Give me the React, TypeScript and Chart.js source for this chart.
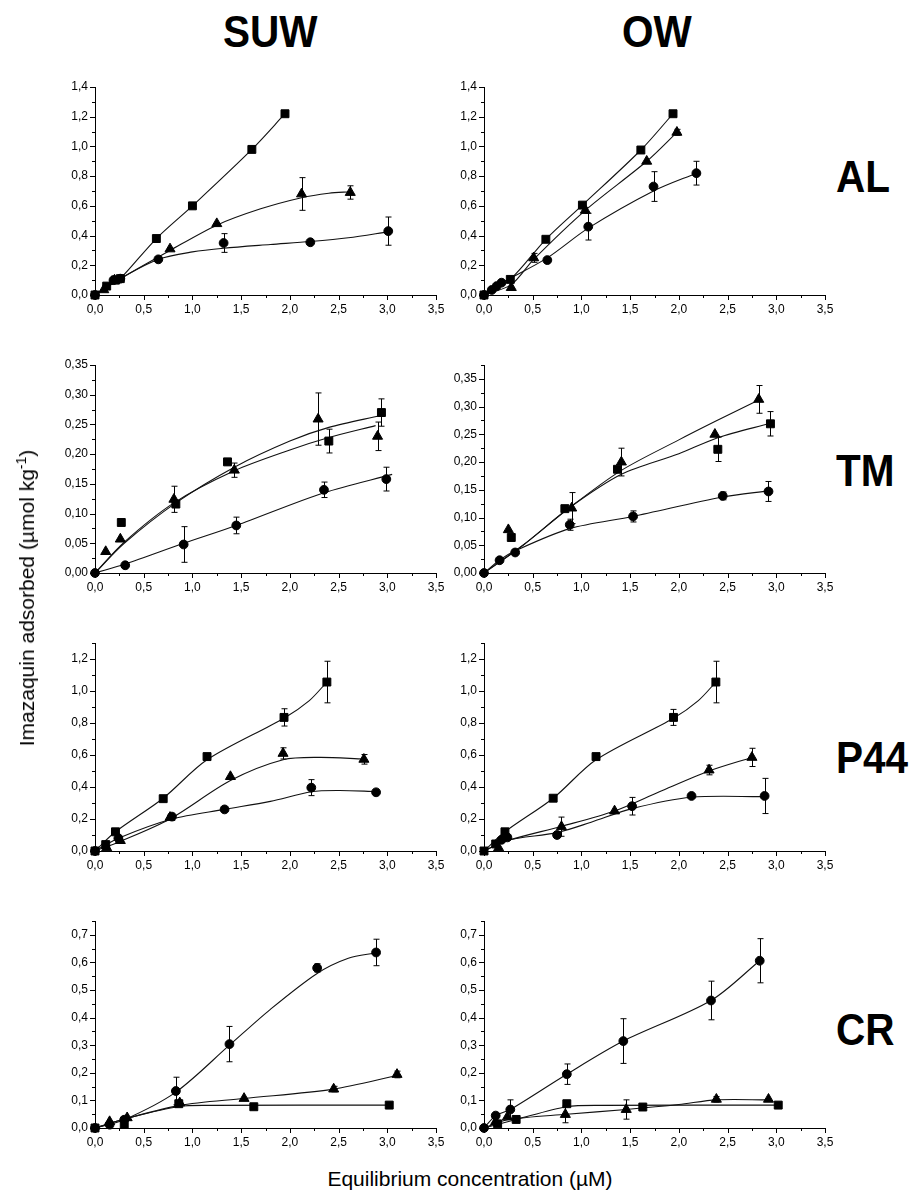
import React, { useEffect, useRef } from 'react';
import { Chart, registerables } from 'chart.js';
Chart.register(...registerables);

type P = [number, number, number]; // x, y, error
type C = [number, number][];

// ---------- AL ----------
const AL_SUW_SQ: P[] = [[0, 0, 0], [0.12, 0.06, 0], [0.21, 0.1, 0], [0.26, 0.11, 0], [0.63, 0.38, 0], [1.0, 0.6, 0], [1.61, 0.98, 0], [1.95, 1.22, 0]];
const AL_SUW_TRI: P[] = [[0.09, 0.035, 0], [0.2, 0.1, 0], [0.77, 0.31, 0], [1.25, 0.48, 0], [2.12, 0.68, 0.11], [2.62, 0.69, 0.045]];
const AL_SUW_CIR: P[] = [[0, 0, 0], [0.19, 0.1, 0], [0.26, 0.11, 0], [0.65, 0.24, 0], [1.32, 0.35, 0.063], [2.21, 0.355, 0], [3.01, 0.43, 0.095]];
const AL_SUW_TRI_FIT: C = [[0, 0], [0.26, 0.11], [0.77, 0.3], [1.25, 0.47], [1.7, 0.58], [2.12, 0.655], [2.4, 0.685], [2.62, 0.695]];
const AL_SUW_CIR_FIT: C = [[0, 0], [0.26, 0.11], [0.65, 0.24], [1.0, 0.29], [1.32, 0.315], [1.8, 0.34], [2.21, 0.36], [2.6, 0.385], [3.01, 0.425]];

const AL_OW_SQ: P[] = [[0, 0, 0], [0.27, 0.105, 0], [0.635, 0.375, 0], [1.01, 0.605, 0], [1.61, 0.976, 0], [1.94, 1.22, 0]];
const AL_OW_TRI: P[] = [[0.28, 0.05, 0], [0.51, 0.25, 0.03], [1.04, 0.57, 0.02], [1.67, 0.9, 0], [1.98, 1.095, 0.02]];
const AL_OW_CIR: P[] = [[0, 0, 0], [0.08, 0.034, 0], [0.13, 0.06, 0], [0.18, 0.083, 0], [0.65, 0.235, 0], [1.07, 0.46, 0.09], [1.74, 0.73, 0.1], [2.18, 0.82, 0.08]];
const AL_OW_TRI_FIT: C = [[0, 0], [0.28, 0.07], [0.51, 0.24], [1.04, 0.57], [1.67, 0.9], [1.98, 1.095]];
const AL_OW_CIR_FIT: C = [[0, 0], [0.08, 0.034], [0.18, 0.08], [0.65, 0.25], [1.07, 0.45], [1.74, 0.7], [2.18, 0.82]];

// ---------- TM ----------
const TM_SUW_SQ: P[] = [[0.27, 0.085, 0], [0.83, 0.116, 0], [1.36, 0.187, 0.005], [2.4, 0.222, 0.02], [2.94, 0.27, 0.023]];
const TM_SUW_TRI: P[] = [[0.11, 0.036, 0], [0.26, 0.057, 0], [0.81, 0.124, 0.022], [1.43, 0.173, 0.012], [2.29, 0.259, 0.044], [2.9, 0.23, 0.024]];
const TM_SUW_CIR: P[] = [[0, 0, 0], [0.31, 0.013, 0], [0.91, 0.048, 0.03], [1.45, 0.08, 0.014], [2.35, 0.14, 0.013], [2.99, 0.158, 0.02]];
const TM_SUW_SQ_FIT: C = [[0, 0], [0.3, 0.05], [0.83, 0.118], [1.43, 0.178], [2.0, 0.222], [2.4, 0.245], [2.93, 0.265]];
const TM_SUW_TRI_FIT: C = [[0, 0], [0.3, 0.052], [0.81, 0.118], [1.43, 0.172], [2.0, 0.207], [2.4, 0.228], [2.88, 0.248]];
const TM_SUW_CIR_FIT: C = [[0, 0], [0.31, 0.015], [0.91, 0.05], [1.45, 0.08], [2.35, 0.135], [3.05, 0.166]];

const TM_OW_SQ: P[] = [[0.28, 0.064, 0], [0.83, 0.116, 0], [1.37, 0.187, 0], [2.4, 0.223, 0.022], [2.94, 0.269, 0.022]];
const TM_OW_TRI: P[] = [[0.25, 0.078, 0], [0.9, 0.117, 0.028], [1.41, 0.2, 0.025], [2.37, 0.25, 0], [2.82, 0.313, 0.025]];
const TM_OW_CIR: P[] = [[0, 0, 0], [0.16, 0.023, 0], [0.32, 0.037, 0], [0.88, 0.087, 0.01], [1.53, 0.102, 0.01], [2.45, 0.139, 0.007], [2.92, 0.147, 0.018]];
const TM_OW_SQ_FIT: C = [[0, 0], [0.4, 0.05], [0.88, 0.118], [1.41, 0.178], [2.0, 0.215], [2.4, 0.244], [2.94, 0.27]];
const TM_OW_TRI_FIT: C = [[0, 0], [0.4, 0.05], [0.88, 0.118], [1.41, 0.185], [2.0, 0.24], [2.37, 0.273], [2.82, 0.312]];
const TM_OW_CIR_FIT: C = [[0, 0], [0.16, 0.023], [0.32, 0.04], [0.88, 0.08], [1.53, 0.102], [2.45, 0.137], [2.92, 0.148]];

// ---------- P44 ----------
const P44_SUW_SQ: P[] = [[0, 0, 0], [0.11, 0.04, 0], [0.21, 0.12, 0], [0.7, 0.327, 0], [1.15, 0.59, 0], [1.94, 0.835, 0.054], [2.38, 1.056, 0.13]];
const P44_SUW_TRI: P[] = [[0.12, 0.02, 0], [0.26, 0.065, 0], [0.77, 0.21, 0], [1.39, 0.465, 0], [1.93, 0.61, 0.035], [2.76, 0.573, 0.03]];
const P44_SUW_CIR: P[] = [[0, 0, 0], [0.24, 0.08, 0], [0.79, 0.215, 0], [1.33, 0.26, 0], [2.22, 0.396, 0.05], [2.885, 0.367, 0]];
const P44_SUW_SQ_FIT: C = [[0, 0], [0.21, 0.12], [0.7, 0.33], [1.15, 0.57], [1.94, 0.83], [2.2, 0.94], [2.38, 1.056]];
const P44_SUW_TRI_FIT: C = [[0, 0], [0.26, 0.06], [0.77, 0.2], [1.39, 0.44], [1.93, 0.57], [2.3, 0.585], [2.76, 0.575]];
const P44_SUW_CIR_FIT: C = [[0, 0], [0.24, 0.08], [0.79, 0.2], [1.33, 0.26], [1.8, 0.31], [2.22, 0.37], [2.5, 0.378], [2.885, 0.372]];

const P44_OW_SQ: P[] = [[0, 0, 0], [0.12, 0.044, 0], [0.215, 0.12, 0], [0.71, 0.33, 0], [1.15, 0.59, 0], [1.945, 0.835, 0.05], [2.38, 1.056, 0.13]];
const P44_OW_TRI: P[] = [[0.15, 0.02, 0], [0.795, 0.152, 0.06], [1.34, 0.25, 0], [2.31, 0.506, 0.03], [2.75, 0.585, 0.057]];
const P44_OW_CIR: P[] = [[0.18, 0.07, 0], [0.24, 0.085, 0], [0.75, 0.1, 0], [1.52, 0.28, 0.055], [2.13, 0.344, 0], [2.88, 0.344, 0.11]];
const P44_OW_SQ_FIT: C = [[0, 0], [0.215, 0.12], [0.71, 0.33], [1.15, 0.57], [1.945, 0.83], [2.2, 0.94], [2.38, 1.056]];
const P44_OW_TRI_FIT: C = [[0, 0], [0.24, 0.065], [0.8, 0.155], [1.34, 0.25], [1.8, 0.37], [2.31, 0.5], [2.75, 0.585]];
const P44_OW_CIR_FIT: C = [[0, 0], [0.24, 0.068], [0.75, 0.115], [1.1, 0.18], [1.52, 0.265], [2.13, 0.336], [2.88, 0.34]];

// ---------- CR ----------
const CR_SUW_CIR: P[] = [[0, 0, 0], [0.15, 0.012, 0], [0.3, 0.03, 0], [0.83, 0.134, 0.05], [1.38, 0.304, 0.064], [2.28, 0.58, 0.015], [2.885, 0.636, 0.048]];
const CR_SUW_TRI: P[] = [[0.15, 0.023, 0], [0.33, 0.037, 0], [0.87, 0.091, 0], [1.53, 0.107, 0], [2.45, 0.141, 0.01], [3.1, 0.194, 0.012]];
const CR_SUW_SQ: P[] = [[0, 0, 0], [0.3, 0.013, 0], [0.86, 0.088, 0], [1.63, 0.077, 0], [3.02, 0.083, 0]];
const CR_SUW_CIR_FIT: C = [[0, 0], [0.3, 0.03], [0.83, 0.13], [1.38, 0.3], [1.8, 0.43], [2.28, 0.56], [2.6, 0.615], [2.885, 0.635]];
const CR_SUW_TRI_FIT: C = [[0, 0], [0.33, 0.035], [0.87, 0.082], [1.53, 0.107], [2.45, 0.141], [3.1, 0.19]];
const CR_SUW_SQ_FIT: C = [[0, 0], [0.33, 0.035], [0.86, 0.078], [1.2, 0.082], [3.02, 0.083]];

const CR_OW_CIR: P[] = [[0, 0, 0], [0.12, 0.045, 0], [0.27, 0.067, 0.035], [0.85, 0.195, 0.037], [1.43, 0.315, 0.081], [2.33, 0.462, 0.07], [2.83, 0.606, 0.08]];
const CR_OW_TRI: P[] = [[0.12, 0.023, 0], [0.24, 0.04, 0], [0.835, 0.049, 0.03], [1.46, 0.067, 0.035], [2.385, 0.104, 0.01], [2.92, 0.104, 0]];
const CR_OW_SQ: P[] = [[0.14, 0.015, 0], [0.33, 0.031, 0], [0.85, 0.088, 0], [1.63, 0.076, 0], [3.02, 0.083, 0]];
const CR_OW_TRI_FIT: C = [[0, 0], [0.24, 0.03], [0.85, 0.05], [1.46, 0.067], [2.0, 0.085], [2.385, 0.102], [2.92, 0.102]];
const CR_OW_SQ_FIT: C = [[0, 0], [0.33, 0.031], [0.85, 0.077], [1.2, 0.082], [3.02, 0.083]];

// ---------- labels ----------
const COLUMN_TITLES = ['SUW', 'OW'];
const ROW_LABELS = ['AL', 'TM', 'P44', 'CR'];
const X_TITLE = 'Equilibrium concentration (µM)';
const X_MAX = 3.5;

// layout (pixels)
const COL_AXIS_X = [95, 484];
const PLOT_W = 341;
const Y_AXIS_W = 60;
const X_AXIS_H = 30;
const PAD_T = 10;
const PAD_R = 14;

const toPts = (a: P[]) => a.map(([x, y]) => ({ x, y }));
const toCurve = (a: C | P[]) => a.map((p) => ({ x: p[0], y: p[1] }));

type Series = { pts: P[]; fit?: C; shape: 'rect' | 'triangle' | 'circle' };
type PanelCfg = {
  col: number;
  top: number;
  bottom: number;
  yMax: number;
  yMajor: number;
  yMinor: number;
  dec: number;
  series: Series[];
};

const ROWS = [
  { top: 87, bottom: 295, yMajor: 0.2, yMinor: 0.1, dec: 1, max: [1.4, 1.4] },
  { top: 365, bottom: 573, yMajor: 0.05, yMinor: 0.025, dec: 2, max: [0.35, 0.375] },
  { top: 643, bottom: 851, yMajor: 0.2, yMinor: 0.1, dec: 1, max: [1.3, 1.3] },
  { top: 921, bottom: 1128, yMajor: 0.1, yMinor: 0.05, dec: 1, max: [0.75, 0.75] },
];

const SERIES: Series[][][] = [
  [
    [{ pts: AL_SUW_SQ, shape: 'rect' }, { pts: AL_SUW_TRI, fit: AL_SUW_TRI_FIT, shape: 'triangle' }, { pts: AL_SUW_CIR, fit: AL_SUW_CIR_FIT, shape: 'circle' }],
    [{ pts: AL_OW_SQ, shape: 'rect' }, { pts: AL_OW_TRI, fit: AL_OW_TRI_FIT, shape: 'triangle' }, { pts: AL_OW_CIR, fit: AL_OW_CIR_FIT, shape: 'circle' }],
  ],
  [
    [{ pts: TM_SUW_SQ, fit: TM_SUW_SQ_FIT, shape: 'rect' }, { pts: TM_SUW_TRI, fit: TM_SUW_TRI_FIT, shape: 'triangle' }, { pts: TM_SUW_CIR, fit: TM_SUW_CIR_FIT, shape: 'circle' }],
    [{ pts: TM_OW_SQ, fit: TM_OW_SQ_FIT, shape: 'rect' }, { pts: TM_OW_TRI, fit: TM_OW_TRI_FIT, shape: 'triangle' }, { pts: TM_OW_CIR, fit: TM_OW_CIR_FIT, shape: 'circle' }],
  ],
  [
    [{ pts: P44_SUW_SQ, fit: P44_SUW_SQ_FIT, shape: 'rect' }, { pts: P44_SUW_TRI, fit: P44_SUW_TRI_FIT, shape: 'triangle' }, { pts: P44_SUW_CIR, fit: P44_SUW_CIR_FIT, shape: 'circle' }],
    [{ pts: P44_OW_SQ, fit: P44_OW_SQ_FIT, shape: 'rect' }, { pts: P44_OW_TRI, fit: P44_OW_TRI_FIT, shape: 'triangle' }, { pts: P44_OW_CIR, fit: P44_OW_CIR_FIT, shape: 'circle' }],
  ],
  [
    [{ pts: CR_SUW_CIR, fit: CR_SUW_CIR_FIT, shape: 'circle' }, { pts: CR_SUW_TRI, fit: CR_SUW_TRI_FIT, shape: 'triangle' }, { pts: CR_SUW_SQ, fit: CR_SUW_SQ_FIT, shape: 'rect' }],
    [{ pts: CR_OW_CIR, shape: 'circle' }, { pts: CR_OW_TRI, fit: CR_OW_TRI_FIT, shape: 'triangle' }, { pts: CR_OW_SQ, fit: CR_OW_SQ_FIT, shape: 'rect' }],
  ],
];

const PANELS: PanelCfg[] = [];
ROWS.forEach((r, ri) => {
  [0, 1].forEach((ci) => {
    PANELS.push({
      col: ci,
      top: r.top,
      bottom: r.bottom,
      yMax: r.max[ci],
      yMajor: r.yMajor,
      yMinor: r.yMinor,
      dec: r.dec,
      series: SERIES[ri][ci],
    });
  });
});

const RADIUS: Record<string, number> = { rect: 5.6, triangle: 5.8, circle: 4.4 };
const FONT = "'Liberation Sans', Arial, sans-serif";

const isMult = (v: number, step: number) => Math.abs(v / step - Math.round(v / step)) < 1e-6;

const tickPlugin = {
  id: 'minorTicks',
  afterDraw(chart: any, _a: any, opts: any) {
    const { ctx, chartArea } = chart;
    const xs = chart.scales.x;
    const ys = chart.scales.y;
    ctx.save();
    ctx.strokeStyle = '#000';
    ctx.lineWidth = 1;
    xs.ticks.forEach((t: any) => {
      const px = Math.round(xs.getPixelForValue(t.value)) + 0.5;
      const len = isMult(t.value, opts.xMajor) ? 5 : 3;
      ctx.beginPath();
      ctx.moveTo(px, chartArea.bottom);
      ctx.lineTo(px, chartArea.bottom + len);
      ctx.stroke();
    });
    ys.ticks.forEach((t: any) => {
      const py = Math.round(ys.getPixelForValue(t.value)) + 0.5;
      const len = isMult(t.value, opts.yMajor) ? 5 : 3;
      ctx.beginPath();
      ctx.moveTo(chartArea.left, py);
      ctx.lineTo(chartArea.left - len, py);
      ctx.stroke();
    });
    ctx.restore();
  },
};

const errorPlugin = {
  id: 'errorBars',
  beforeDatasetsDraw(chart: any) {
    const { ctx } = chart;
    const ys = chart.scales.y;
    ctx.save();
    ctx.strokeStyle = '#000';
    ctx.lineWidth = 1;
    chart.data.datasets.forEach((ds: any, i: number) => {
      if (!ds.errors) return;
      const meta = chart.getDatasetMeta(i);
      meta.data.forEach((el: any, j: number) => {
        const e = ds.errors[j];
        if (!e) return;
        const v = ds.data[j].y;
        const x = Math.round(el.x) + 0.5;
        const y1 = ys.getPixelForValue(v + e);
        const y2 = ys.getPixelForValue(v - e);
        ctx.beginPath();
        ctx.moveTo(x, y1);
        ctx.lineTo(x, y2);
        ctx.moveTo(x - 3, y1);
        ctx.lineTo(x + 3, y1);
        ctx.moveTo(x - 3, y2);
        ctx.lineTo(x + 3, y2);
        ctx.stroke();
      });
    });
    ctx.restore();
  },
};

function Panel({ cfg }: { cfg: PanelCfg }) {
  const ref = useRef<HTMLCanvasElement>(null);
  const W = Y_AXIS_W + PLOT_W + PAD_R;
  const H = PAD_T + (cfg.bottom - cfg.top) + X_AXIS_H;
  const left = COL_AXIS_X[cfg.col] - Y_AXIS_W;
  const top = cfg.top - PAD_T;

  useEffect(() => {
    const datasets: any[] = [];
    cfg.series.forEach((s) => {
      datasets.push({
        data: toCurve(s.fit || s.pts),
        showLine: true,
        pointRadius: 0,
        borderColor: '#111',
        borderWidth: 1.1,
        tension: 0.3,
        fill: false,
        order: 2,
      });
    });
    cfg.series.forEach((s) => {
      datasets.push({
        data: toPts(s.pts),
        errors: s.pts.map((p) => p[2]),
        showLine: false,
        pointStyle: s.shape,
        pointRadius: RADIUS[s.shape],
        pointBorderWidth: 1,
        pointBackgroundColor: '#000',
        pointBorderColor: '#000',
        borderColor: '#000',
        backgroundColor: '#000',
        clip: false,
        order: 1,
      });
    });

    const chart = new Chart(ref.current!, {
      type: 'line',
      data: { datasets },
      options: {
        animation: false,
        responsive: false,
        events: [],
        layout: { padding: { top: PAD_T, right: PAD_R, left: 0, bottom: 0 } },
        plugins: {
          legend: { display: false },
          tooltip: { enabled: false },
          minorTicks: { xMajor: 0.5, yMajor: cfg.yMajor },
        } as any,
        scales: {
          x: {
            type: 'linear',
            min: 0,
            max: X_MAX,
            afterFit: (s: any) => {
              s.height = X_AXIS_H;
            },
            ticks: {
              stepSize: 0.25,
              autoSkip: false,
              maxRotation: 0,
              padding: 2,
              color: '#000',
              font: { family: FONT, size: 12 },
              callback: (v: any) => (isMult(Number(v), 0.5) ? Number(v).toFixed(1).replace('.', ',') : ''),
            },
            grid: { display: true, drawOnChartArea: false, drawTicks: true, tickLength: 5, tickColor: 'rgba(0,0,0,0)' },
            border: { display: true, color: '#000', width: 1 },
          },
          y: {
            type: 'linear',
            min: 0,
            max: cfg.yMax,
            afterFit: (s: any) => {
              s.width = Y_AXIS_W;
            },
            ticks: {
              stepSize: cfg.yMinor,
              autoSkip: false,
              padding: 2,
              color: '#000',
              font: { family: FONT, size: 12 },
              callback: (v: any) => (isMult(Number(v), cfg.yMajor) ? Number(v).toFixed(cfg.dec).replace('.', ',') : ''),
            },
            grid: { display: true, drawOnChartArea: false, drawTicks: true, tickLength: 5, tickColor: 'rgba(0,0,0,0)' },
            border: { display: true, color: '#000', width: 1 },
          },
        },
      } as any,
      plugins: [tickPlugin, errorPlugin],
    });
    return () => chart.destroy();
  }, []);

  return (
    <canvas
      ref={ref}
      width={W}
      height={H}
      style={{ position: 'absolute', left, top, width: W, height: H }}
    />
  );
}

const bigLabel: React.CSSProperties = {
  position: 'absolute',
  fontFamily: FONT,
  fontWeight: 'bold',
  fontSize: 45,
  lineHeight: '45px',
  color: '#000',
  whiteSpace: 'nowrap',
  transform: 'scaleX(0.9)',
  transformOrigin: 'left center',
};

const ROW_LABEL_TOPS = [154, 448, 735, 1007];
const TITLE_LEFTS = [223, 622];

export default function App() {
  useEffect(() => {
    document.body.style.margin = '0';
  }, []);
  return (
    <div style={{ position: 'relative', width: 909, height: 1192, background: '#fff', overflow: 'hidden' }}>
      {COLUMN_TITLES.map((t, i) => (
        <div key={t} style={{ ...bigLabel, left: TITLE_LEFTS[i], top: 9 }}>
          {t}
        </div>
      ))}
      {ROW_LABELS.map((t, i) => (
        <div key={t} style={{ ...bigLabel, left: 836, top: ROW_LABEL_TOPS[i] }}>
          {t}
        </div>
      ))}
      {PANELS.map((p, i) => (
        <Panel key={i} cfg={p} />
      ))}
      <div
        style={{
          position: 'absolute',
          left: 26,
          top: 598,
          transform: 'translate(-50%, -50%) rotate(-90deg)',
          fontFamily: FONT,
          fontSize: 21,
          whiteSpace: 'nowrap',
          color: '#000',
        }}
      >
        Imazaquin adsorbed (µmol kg<sup style={{ fontSize: 14 }}>-1</sup>)
      </div>
      <div
        style={{
          position: 'absolute',
          left: 470,
          top: 1179,
          transform: 'translate(-50%, -50%)',
          fontFamily: FONT,
          fontSize: 21,
          whiteSpace: 'nowrap',
          color: '#000',
        }}
      >
        {X_TITLE}
      </div>
    </div>
  );
}
